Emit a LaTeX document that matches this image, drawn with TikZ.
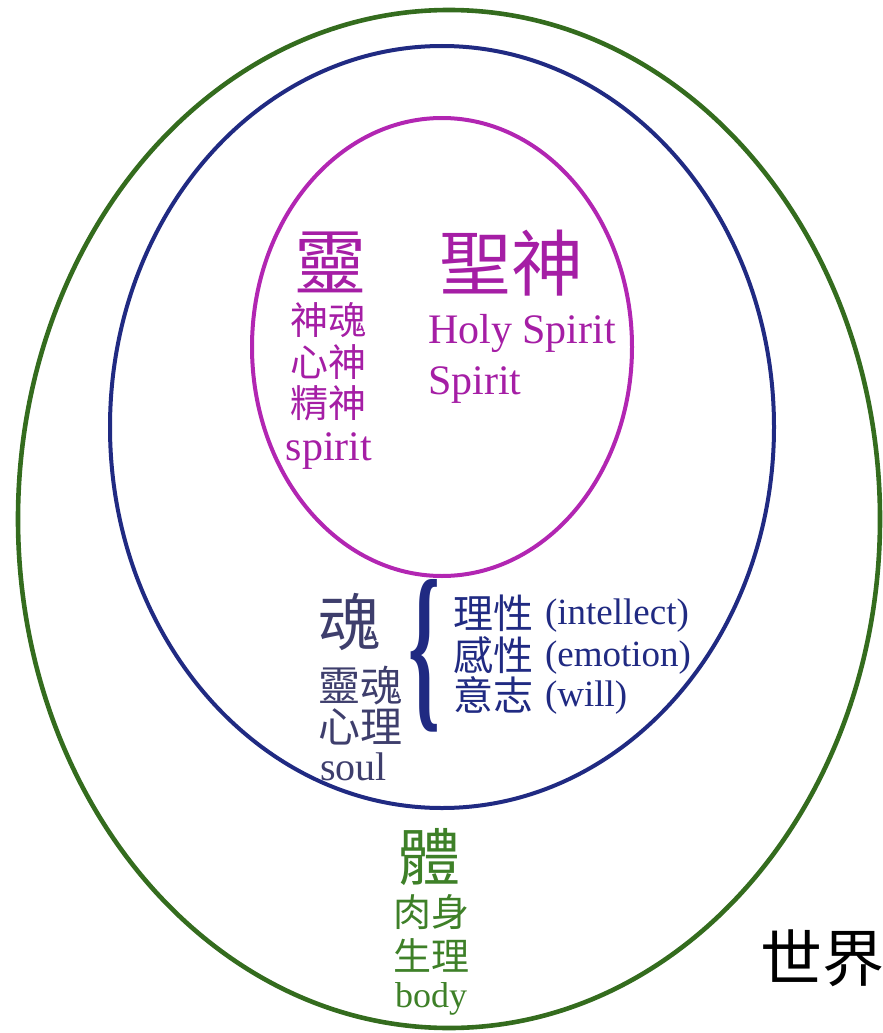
\documentclass[tikz,border=0pt]{standalone}
\usepackage{fontspec}
\setmainfont{Liberation Serif}
\newfontfamily\cjk{Noto Sans CJK TC}
\usetikzlibrary{positioning}

\definecolor{worldgreen}{RGB}{52,108,30}
\definecolor{bodygreen}{RGB}{62,128,40}
\definecolor{soulblue}{RGB}{32,42,130}
\definecolor{soulgray}{RGB}{62,62,108}
\definecolor{spiritpink}{RGB}{178,38,178}
\definecolor{spirittext}{RGB}{165,30,165}

\newcommand{\zh}[2]{{\cjk\fontsize{#1}{#1}\selectfont #2}}
\newcommand{\en}[2]{{\fontsize{#1}{#1}\selectfont #2}}

\begin{document}
\begin{tikzpicture}[x=1pt,y=-1pt,
  label/.style={inner sep=0pt, outer sep=0pt},
  spiritlbl/.style={label, text=spirittext},
  soullbl/.style={label, text=soulblue},
  soulname/.style={label, text=soulgray},
  bodylbl/.style={label, text=bodygreen}]
\useasboundingbox (0,0) rectangle (883,1033);

% the three circles
\draw[worldgreen, line width=4.6] (449,519) ellipse [x radius=431, y radius=509];
\draw[soulblue, line width=4] (442,427) ellipse [x radius=332, y radius=381];
\draw[spiritpink, line width=4] (442,347) ellipse [x radius=190, y radius=229];

% spirit
\node[spiritlbl] (ling) at (330,262) {\zh{72}{靈}};
\node[spiritlbl] (lingA) at (328,320) {\zh{38}{神魂}};
\node[spiritlbl] (lingB) at (328,362) {\zh{38}{心神}};
\node[spiritlbl] (lingC) at (328,403) {\zh{38}{精神}};
\node[spiritlbl, anchor=base] (lingEn) at (329,460) {\en{42}{spirit}};

\node[spiritlbl] (holy) at (511,263) {\zh{72}{聖神}};
\node[spiritlbl, anchor=base west] (holyEn) at (428,343) {\en{42}{Holy Spirit}};
\node[spiritlbl, anchor=base west] (holyEnB) at (428,394) {\en{42}{Spirit}};

% soul
\node[soulname] (hun) at (349,622) {\zh{62}{魂}};
\node[soulname] (hunA) at (360,686) {\zh{42}{靈魂}};
\node[soulname] (hunB) at (360,727) {\zh{42}{心理}};
\node[soulname, anchor=base west] (hunEn) at (320,780) {\en{40}{soul}};

\node[soullbl] (brace) at (425,656) {\resizebox{32pt}{128pt}{\textbf{\{}}};

\node[soullbl, anchor=west] (intel) at (453,613) {\zh{40}{理性}};
\node[soullbl, anchor=west] (emot) at (453,655) {\zh{40}{感性}};
\node[soullbl, anchor=west] (will) at (453,695) {\zh{40}{意志}};
\node[soullbl, anchor=base west] (intelEn) at (545,624) {\en{37}{(intellect)}};
\node[soullbl, anchor=base west] (emotEn) at (545,666) {\en{37}{(emotion)}};
\node[soullbl, anchor=base west] (willEn) at (545,706) {\en{37}{(will)}};

% body
\node[bodylbl] (ti) at (429,857) {\zh{62}{體}};
\node[bodylbl] (tiA) at (431,912) {\zh{38}{肉身}};
\node[bodylbl] (tiB) at (431,955) {\zh{38}{生理}};
\node[bodylbl, anchor=base] (tiEn) at (431,1007) {\en{36}{body}};

% world
\node[label] (world) at (822,958) {\zh{62}{世界}};
\end{tikzpicture}
\end{document}
